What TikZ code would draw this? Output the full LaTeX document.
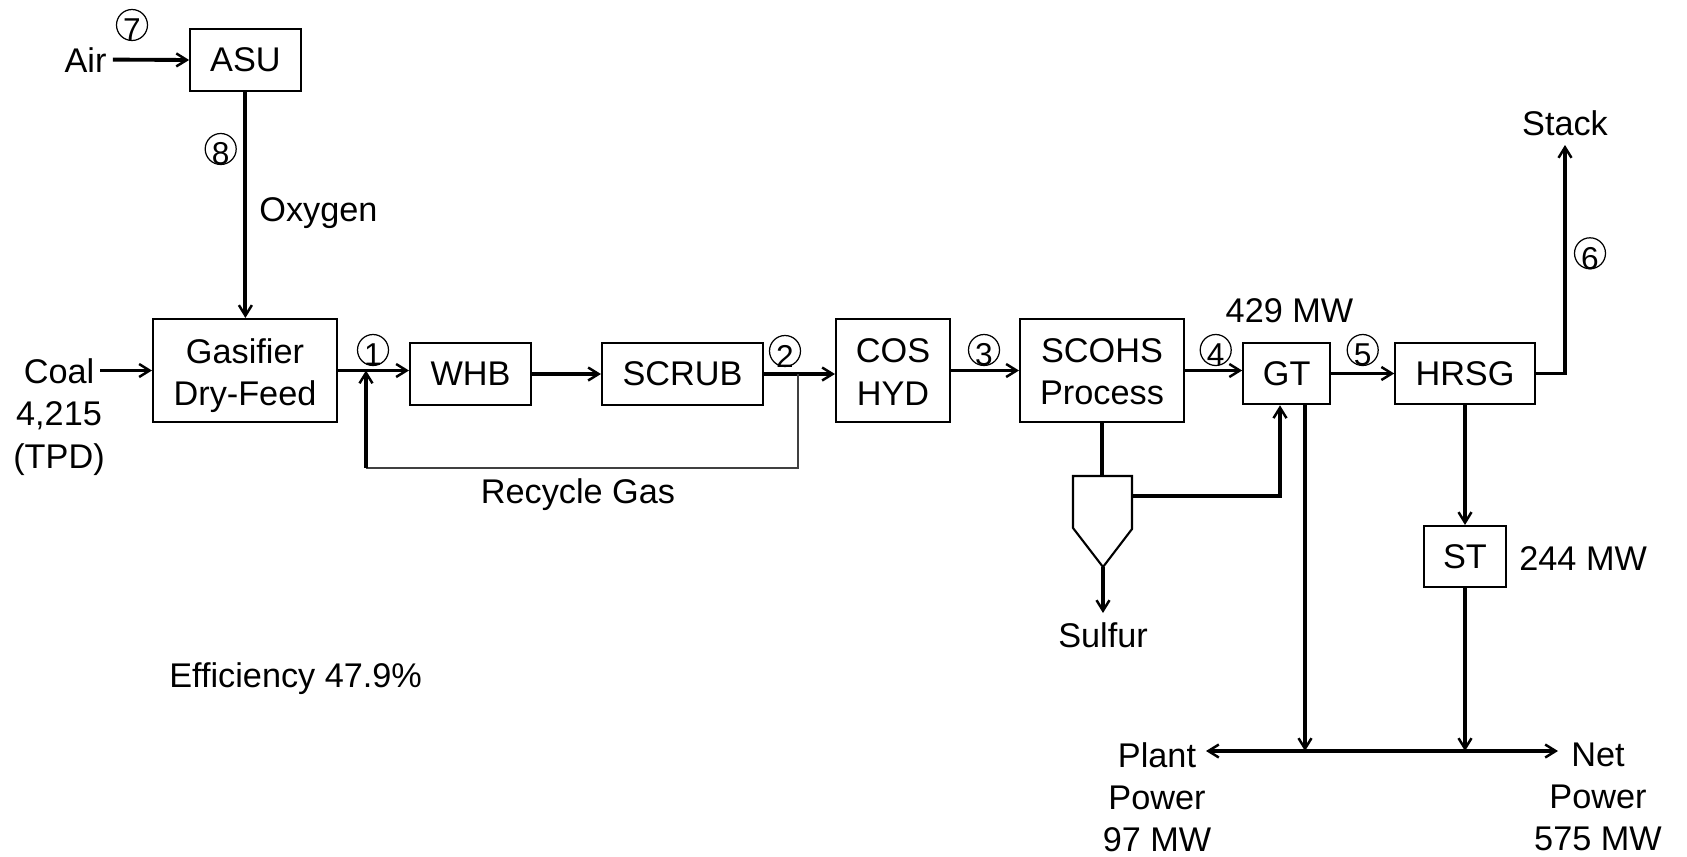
\documentclass[tikz,border=0pt]{standalone}
\usepackage{fontspec}
\setmainfont{Liberation Sans}
\usetikzlibrary{arrows.meta}
\newcommand\circnum[3]{%
  \node[cnum] (#1) at (#2) {};
  \node[cdig] (#1t) at ([yshift=-0.1cm]#1.center) {#3};}
\begin{document}
\begin{tikzpicture}[x=0.02cm,y=-0.02cm,
  font=\fontsize{19.5}{24}\selectfont,
  box/.style={draw, line width=1.2pt, inner sep=0pt, align=center},
  lbl/.style={inner sep=0pt},
  flow/.style={line width=2.2pt, -{Straight Barb[length=0.21cm,width=0.26cm,line width=1.4pt]}},
  bothflow/.style={line width=2.2pt, {Straight Barb[length=0.21cm,width=0.26cm,line width=1.4pt]}-{Straight Barb[length=0.21cm,width=0.26cm,line width=1.4pt]}},
  pipe/.style={line width=2.2pt},
  recyc/.style={line width=0.8pt, black!75},
  cnum/.style={circle, draw, line width=0.7pt, minimum size=0.62cm, inner sep=0pt},
  cdig/.style={inner sep=0pt, font=\fontsize{18}{20}\selectfont},
]
\useasboundingbox (0,0) rectangle (1687,856);

% boxes
\node[box, minimum width=2.21cm, minimum height=1.23cm] (asu) at (245.4,60) {ASU};
\node[box, minimum width=3.68cm, minimum height=2.06cm] (gas) at (245,370.5) {};
\node[lbl, align=center] (gastxt) at ([yshift=-0.1cm]gas.center) {Gasifier\\Dry-Feed};
\node[box, minimum width=2.42cm, minimum height=1.24cm] (whb) at (470.5,374) {WHB};
\node[box, minimum width=3.22cm, minimum height=1.24cm] (scrub) at (682.5,374) {SCRUB};
\node[box, minimum width=2.28cm, minimum height=2.06cm] (cos) at (893,370.5) {};
\node[lbl, align=center] (costxt) at ([yshift=-0.03cm]cos.center) {COS\\HYD};
\node[box, minimum width=3.28cm, minimum height=2.06cm] (scohs) at (1102,370.5) {};
\node[lbl, align=center] (scohstxt) at ([yshift=-0.03cm]scohs.center) {SCOHS\\Process};
\node[box, minimum width=1.74cm, minimum height=1.23cm] (gt) at (1286.7,373.5) {GT};
\node[box, minimum width=2.79cm, minimum height=1.23cm] (hrsg) at (1465,373.5) {HRSG};
\node[box, minimum width=1.64cm, minimum height=1.22cm] (st) at (1465,556.5) {ST};

% labels
\node[lbl, anchor=base] (air) at (85.5,72) {Air};
\node[lbl, anchor=base west] (oxy) at (259,221) {Oxygen};
\node[lbl, align=center] (coal) at (59,417) {Coal\\4,215\\(TPD)};
\node[lbl, anchor=base] (rg) at (578,503) {Recycle Gas};
\node[lbl, anchor=base] (p429) at (1289.5,322) {429 MW};
\node[lbl, anchor=base] (stack) at (1565,135) {Stack};
\node[lbl, anchor=base] (sulfur) at (1103,647) {Sulfur};
\node[lbl, anchor=base west] (p244) at (1519,570) {244 MW};
\node[lbl, align=center] (plant) at (1157,797) {Plant\\Power\\97 MW};
\node[lbl, align=center] (net) at (1598,797) {Net\\Power\\575 MW};
\node[lbl, anchor=base west] (eff) at (169,687) {Efficiency 47.9\%};

% circled stream numbers
\circnum{c7}{132,25}{7}
\circnum{c8}{220.7,149}{8}
\circnum{c1}{373,350}{1}
\circnum{c2}{785,351}{2}
\circnum{c3}{984,350}{3}
\circnum{c4}{1215.7,350}{4}
\circnum{c5}{1362.7,350}{5}
\circnum{c6}{1590,253.3}{6}

% coordinates
\coordinate (coalout) at (100,370.5);
\coordinate (j1) at (366,370.5);
\coordinate (j2) at (798,374);
\coordinate (rb) at (0,468);
\coordinate (stk) at (1565,145);
\coordinate (sepTL) at (1073,476);
\coordinate (sepTR) at (1132,476);
\coordinate (sepR) at (1132,529);
\coordinate (sepB) at (1103,567);
\coordinate (sepL) at (1073,528);
\coordinate (sepO) at (1132,496);
\coordinate (sulf) at (1103,613);
\coordinate (gtin) at (1280,0);
\coordinate (gtout) at (1305,0);
\coordinate (busL) at (1206,751);
\coordinate (busR) at (1558,751);

% connectors
\draw[flow] ([xshift=0.12cm]air.east) -- (asu.west);
\draw[flow] (asu.south) -- (asu.south |- gas.north);
\draw[flow] (coalout) -- (gas.west);
\draw[flow] (gas.east) -- (gas.east -| whb.west);
\draw[flow] (whb.east) -- (scrub.west);
\draw[flow] (scrub.east) -- (scrub.east -| cos.west);
\draw[recyc] (j2) -- (j2 |- rb) -- (j1 |- rb);
\draw[flow] (j1 |- rb) -- (j1);
\draw[flow] (cos.east) -- (scohs.west);
\draw[flow] (scohs.east) -- (scohs.east -| gt.west);
\draw[flow] (gt.east) -- (hrsg.west);
\draw[flow] (hrsg.east) -| (stk);
\draw[flow] (hrsg.south) -- (st.north);
\draw[line width=1.2pt] (sepTL) -- (sepTR) -- (sepR) -- (sepB) -- (sepL) -- cycle;
\draw[pipe] (scohs.south) -- (scohs.south |- sepTL);
\draw[flow] (sepB) -- (sulf);
\draw[flow] (sepO) -| (gtin |- gt.south);
\draw[flow] (gtout |- gt.south) -- (gtout |- busL);
\draw[flow] (st.south) -- (st.south |- busL);
\draw[bothflow] (busL) -- (busR);
\end{tikzpicture}
\end{document}
